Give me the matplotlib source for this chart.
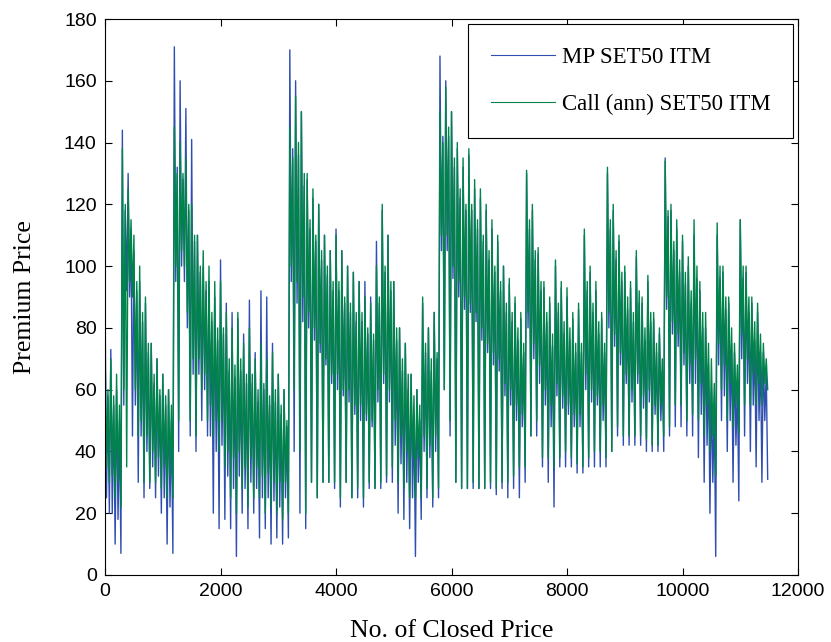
import matplotlib.pyplot as plt
import numpy as np

# values: for each 100 closed prices a peak, the
# dense band (low and high edge) and a trough
step = 25

call_hi = [75, 70, 65, 138, 125, 110, 100, 90, 75, 70,
           65, 60, 145, 140, 135, 120, 110, 105, 100, 95,
           95, 85, 80, 85, 75, 80, 70, 75, 70, 72,
           65, 60, 145, 155, 150, 130, 125, 120, 110, 105,
           110, 105, 100, 98, 95, 90, 88, 100, 120, 110,
           95, 80, 75, 65, 60, 90, 80, 85, 150, 158,
           150, 140, 135, 138, 128, 125, 120, 115, 110, 100,
           96, 90, 85, 131, 120, 106, 95, 90, 102, 95,
           93, 85, 88, 112, 100, 95, 85, 132, 120, 110,
           100, 95, 105, 90, 97, 85, 80, 134, 120, 115,
           110, 103, 115, 95, 85, 70, 114, 100, 90, 75,
           115, 100, 90, 88, 75]
call_bh = [60, 58, 55, 120, 115, 95, 85, 75, 65, 60,
           58, 55, 130, 130, 120, 110, 100, 95, 85, 80,
           80, 70, 68, 70, 65, 65, 60, 62, 58, 60,
           55, 50, 135, 140, 130, 115, 110, 105, 100, 95,
           95, 90, 88, 85, 85, 80, 78, 90, 100, 95,
           80, 70, 65, 58, 55, 75, 70, 72, 140, 145,
           135, 125, 120, 120, 115, 110, 105, 100, 95, 88,
           85, 80, 75, 115, 105, 95, 85, 78, 88, 82,
           80, 75, 75, 95, 88, 82, 75, 115, 105, 98,
           90, 85, 92, 80, 85, 75, 70, 118, 108, 102,
           98, 92, 100, 85, 75, 62, 100, 90, 80, 68,
           100, 90, 82, 78, 70]
call_bl = [35, 32, 30, 60, 95, 60, 50, 45, 40, 38,
           35, 32, 100, 105, 85, 70, 70, 65, 55, 50,
           50, 40, 38, 40, 35, 38, 35, 32, 33, 30,
           30, 30, 100, 95, 90, 85, 80, 75, 70, 65,
           65, 60, 60, 55, 55, 52, 50, 60, 65, 60,
           50, 45, 40, 38, 38, 45, 42, 45, 110, 110,
           100, 95, 90, 88, 85, 80, 75, 72, 70, 62,
           60, 55, 52, 85, 75, 68, 60, 55, 62, 58,
           55, 52, 52, 65, 60, 58, 55, 85, 78, 72,
           65, 60, 65, 58, 60, 55, 55, 90, 82, 78,
           72, 68, 70, 62, 55, 45, 75, 68, 62, 55,
           78, 70, 65, 62, 62]
call_lo = [30, 25, 22, 35, 90, 45, 30, 30, 30, 28,
           25, 25, 50, 100, 50, 45, 60, 50, 45, 40,
           35, 25, 20, 28, 22, 25, 25, 20, 22, 20,
           18, 20, 60, 40, 20, 30, 25, 30, 30, 30,
           25, 30, 25, 28, 25, 30, 28, 30, 32, 35,
           30, 28, 25, 25, 25, 28, 25, 28, 60, 50,
           30, 28, 28, 30, 28, 28, 30, 28, 30, 30,
           32, 35, 35, 45, 50, 38, 38, 35, 38, 40,
           38, 36, 35, 38, 40, 40, 38, 40, 48, 45,
           45, 45, 45, 44, 42, 42, 45, 48, 55, 55,
           50, 52, 50, 45, 40, 32, 60, 50, 48, 46,
           55, 55, 55, 55, 60]

mp_hi = [90, 73, 60, 144, 130, 105, 95, 88, 75, 70,
         65, 60, 171, 160, 151, 141, 110, 100, 95, 90,
         102, 88, 85, 83, 78, 89, 72, 92, 90, 75,
         65, 60, 170, 160, 150, 128, 122, 120, 110, 105,
         112, 105, 100, 98, 95, 95, 90, 108, 118, 110,
         95, 80, 75, 65, 60, 88, 80, 85, 168, 160,
         150, 138, 132, 136, 125, 122, 118, 112, 108, 100,
         94, 88, 83, 130, 118, 104, 93, 88, 100, 93,
         90, 83, 86, 110, 98, 92, 83, 130, 118, 108,
         98, 93, 103, 88, 95, 83, 78, 135, 118, 112,
         108, 100, 110, 92, 80, 60, 110, 98, 88, 72,
         115, 98, 88, 85, 72]
mp_bh = [58, 55, 50, 118, 112, 92, 82, 72, 62, 58,
         55, 50, 132, 128, 118, 108, 98, 92, 82, 76,
         78, 66, 64, 66, 62, 62, 56, 60, 55, 56,
         52, 48, 138, 136, 126, 112, 108, 102, 97, 92,
         92, 88, 85, 82, 82, 78, 76, 88, 98, 92,
         76, 66, 60, 52, 50, 72, 66, 70, 142, 142,
         132, 122, 118, 118, 112, 108, 102, 98, 92, 85,
         82, 76, 72, 112, 102, 92, 82, 74, 85, 78,
         76, 72, 72, 92, 85, 78, 72, 112, 102, 95,
         86, 82, 88, 76, 82, 72, 66, 116, 105, 98,
         94, 88, 96, 80, 68, 55, 96, 86, 75, 62,
         96, 85, 76, 72, 66]
mp_bl = [25, 20, 18, 55, 90, 55, 45, 40, 35, 32,
         25, 22, 95, 100, 80, 65, 65, 60, 45, 40,
         42, 32, 28, 32, 28, 30, 28, 25, 25, 24,
         22, 25, 95, 88, 82, 80, 76, 72, 68, 62,
         60, 58, 56, 52, 50, 50, 48, 56, 62, 56,
         42, 36, 30, 25, 30, 40, 38, 40, 105, 105,
         96, 90, 86, 85, 82, 76, 72, 68, 66, 58,
         55, 50, 48, 80, 70, 62, 55, 48, 58, 54,
         52, 48, 48, 60, 56, 55, 50, 80, 74, 68,
         62, 56, 62, 54, 56, 52, 50, 86, 78, 74,
         68, 62, 62, 52, 42, 30, 68, 58, 50, 42,
         70, 62, 55, 50, 50]
mp_lo = [20, 10, 7, 92, 45, 30, 25, 28, 25, 20,
         10, 7, 40, 95, 45, 40, 50, 45, 20, 15,
         18, 15, 6, 20, 15, 20, 12, 15, 10, 12,
         10, 12, 40, 20, 15, 30, 25, 30, 30, 28,
         22, 30, 25, 25, 22, 28, 28, 28, 30, 30,
         20, 18, 15, 6, 18, 25, 22, 25, 60, 45,
         30, 28, 28, 28, 28, 28, 28, 26, 28, 25,
         28, 25, 30, 45, 45, 35, 30, 22, 35, 35,
         35, 33, 33, 35, 35, 35, 35, 40, 45, 42,
         42, 42, 42, 40, 40, 40, 40, 45, 48, 48,
         45, 45, 38, 30, 20, 6, 50, 40, 30, 24,
         45, 40, 35, 30, 31]

call = np.column_stack([call_hi, call_bl, call_bh, call_lo]).ravel()
mp = np.column_stack([mp_hi, mp_bl, mp_bh, mp_lo]).ravel()
x = np.arange(len(call)) * step

plt.rcParams['font.family'] = 'Liberation Sans'
fig = plt.figure(figsize=(8.31, 6.42), dpi=100)
ax = fig.add_axes([0.1264, 0.1044, 0.8339, 0.866])

ax.plot(x, mp, c='#2f4fb0', lw=1.0, label='MP SET50 ITM')
ax.plot(x, call, c='#00844a', lw=1.0, label='Call (ann) SET50 ITM')

ax.set_xlim(0, 12000)
ax.set_ylim(0, 180)
ax.set_xticks(np.arange(0, 12001, 2000))
ax.set_yticks(np.arange(0, 181, 20))
ax.tick_params(direction='in', top=True, right=True, length=5, labelsize=14, pad=6)
for s in ax.spines.values():
    s.set_linewidth(0.8)

ax.set_xlabel('No. of Closed Price', family='Liberation Serif', fontsize=18.5, labelpad=14)
ax.set_ylabel('Premium Price', family='Liberation Serif', fontsize=18.5, labelpad=20)

leg = ax.legend(loc='upper right', prop={'family': 'Liberation Serif', 'size': 16.5},
                handlelength=2.8, handletextpad=0.3, labelspacing=1.15,
                borderpad=1.0, borderaxespad=0.2,
                fancybox=False, edgecolor='black', framealpha=1)
leg.get_frame().set_linewidth(0.8)
for line in leg.get_lines():
    line.set_linewidth(0.8)

fig.savefig('out.png', dpi=100)
